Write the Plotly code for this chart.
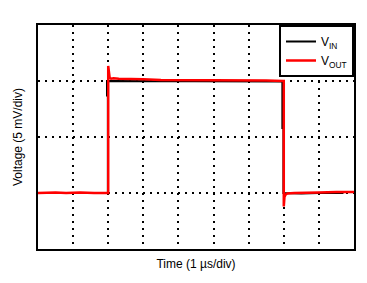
import plotly.graph_objects as go

# Time in µs (1 µs/div), voltage in divisions (5 mV/div)
t_vout = [0.0, 0.5, 0.8, 1.2, 1.6, 1.99, 2.0, 2.0, 2.02, 2.04, 2.08, 2.15, 2.3, 2.6, 3.0, 3.5, 4.0, 4.5, 5.0, 5.5, 6.0, 6.5, 6.99, 7.0, 7.0, 7.02, 7.05, 7.1, 7.3, 7.6, 8.0, 8.5, 9.0]
v_vout = [1.0, 1.01, 1.0, 1.01, 1.0, 1.0, 1.0, 3.27, 3.07, 3.06, 3.04, 3.05, 3.04, 3.03, 3.03, 3.02, 3.02, 3.02, 3.01, 3.01, 3.01, 3.01, 3.0, 3.0, 0.76, 0.93, 0.97, 0.99, 1.0, 1.01, 1.01, 1.02, 1.02]

t_vin = [0.0, 1.99, 1.99, 1.965, 1.965, 2.1, 3.0, 4.0, 5.0, 6.0, 6.96, 6.96, 6.99, 6.99, 7.5, 8.0, 8.7]
v_vin = [1.0, 1.0, 2.74, 2.74, 3.0, 3.0, 3.0, 3.0, 2.99, 2.99, 2.99, 2.16, 2.16, 1.0, 0.99, 1.0, 1.0]

x_grid = [1, 2, 3, 4, 5, 6, 7, 8]
y_grid = [1, 2, 3]

fig = go.Figure()
fig.add_trace(go.Scatter(x=t_vin, y=v_vin, mode="lines", name="V<sub>IN</sub>",
                         line=dict(color="black", width=2)))
fig.add_trace(go.Scatter(x=t_vout, y=v_vout, mode="lines", name="V<sub>OUT</sub>",
                         line=dict(color="#ff0000", width=2.5)))

axis_common = dict(showgrid=True, gridcolor="black", gridwidth=1.5, griddash="2px,5px",
                   showticklabels=False, ticks="", zeroline=False,
                   showline=True, linecolor="black", linewidth=2, mirror=True)

fig.update_layout(
    width=367, height=283,
    margin=dict(l=38, r=11, t=25, b=34),
    paper_bgcolor="white", plot_bgcolor="white",
    font=dict(family="Liberation Sans, Arial, sans-serif", size=12, color="black"),
    xaxis=dict(range=[0, 9], tickvals=x_grid, **axis_common,
               title=dict(text="Time (1 µs/div)", standoff=10, font=dict(size=12))),
    yaxis=dict(range=[0, 4], tickvals=y_grid, **axis_common,
               title=dict(text="Voltage (5 mV/div)", standoff=11, font=dict(size=12))),
    legend=dict(x=1, y=1, xanchor="right", yanchor="top", bgcolor="white",
                bordercolor="black", borderwidth=2, font=dict(size=12),
                itemwidth=30, tracegroupgap=0),
    showlegend=True,
)

fig.write_html("out.html")
